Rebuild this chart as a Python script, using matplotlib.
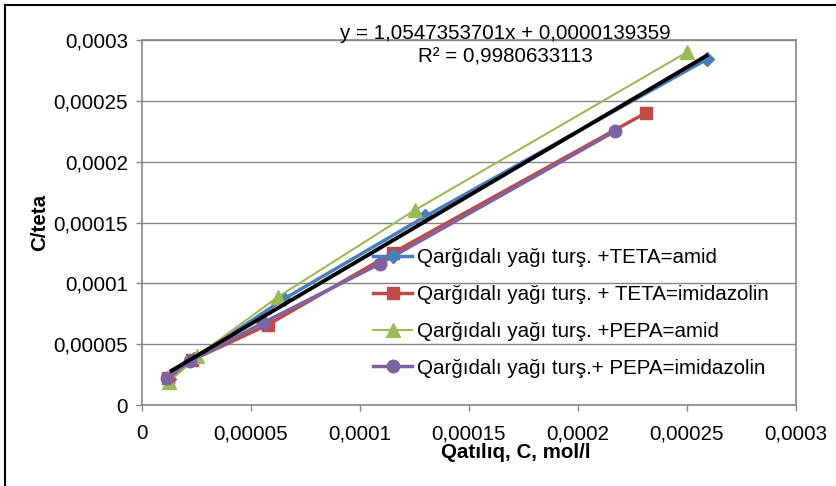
import matplotlib
matplotlib.use("Agg")

import matplotlib.pyplot as plt
from matplotlib.lines import Line2D
import numpy as np

plt.rcParams["font.family"] = ["Liberation Sans", "DejaVu Sans"]

# --- data ---
teta_amid_x = [0.0000125, 0.000024, 0.000065, 0.00013, 0.000259]
teta_amid_y = [0.000021, 0.000038, 0.000087, 0.000155, 0.000284]

teta_imid_x = [0.0000119, 0.000023, 0.0000578, 0.000115, 0.000231]
teta_imid_y = [0.0000222, 0.000037, 0.000066, 0.000125, 0.00024]

pepa_amid_x = [0.0000125, 0.000025, 0.0000625, 0.000125, 0.00025]
pepa_amid_y = [0.000019, 0.00004, 0.000089, 0.00016, 0.00029]

pepa_imid_x = [0.0000115, 0.000022, 0.0000555, 0.000109, 0.000217]
pepa_imid_y = [0.0000225, 0.000036, 0.0000675, 0.000116, 0.000225]

series_labels = [
    "Qarğıdalı yağı turş. +TETA=amid",
    "Qarğıdalı yağı turş. + TETA=imidazolin",
    "Qarğıdalı yağı turş. +PEPA=amid",
    "Qarğıdalı yağı turş.+ PEPA=imidazolin",
]

# trendline as printed on the chart
SLOPE = 1.0547353701
INTERCEPT = 0.0000139359
EQ_TEXT = "y = 1,0547353701x + 0,0000139359"
R2_TEXT = "R² = 0,9980633113"

tick_vals = [0, 0.00005, 0.0001, 0.00015, 0.0002, 0.00025, 0.0003]
tick_labels = ["0", "0,00005", "0,0001", "0,00015", "0,0002", "0,00025", "0,0003"]

GRAY = "#868686"
FS = 14.8

fig = plt.figure(figsize=(8.36, 4.86), dpi=100)
W, H = 836, 486
ax = fig.add_axes([142 / W, 1 - 405 / H, (796 - 142) / W, (405 - 40) / H])

ax.plot(teta_amid_x, teta_amid_y, color="#4A7EBB", lw=2.5, marker="D", ms=7,
        label=series_labels[0], zorder=3)
ax.plot(teta_imid_x, teta_imid_y, color="#BE4B48", lw=2.5, marker="s", ms=8,
        label=series_labels[1], zorder=3)
ax.plot(pepa_amid_x, pepa_amid_y, color="#9BBB59", lw=1.5, marker="^", ms=10,
        label=series_labels[2], zorder=3)
ax.plot(pepa_imid_x, pepa_imid_y, color="#7F63A1", lw=2.5, marker="o", ms=9,
        label=series_labels[3], zorder=3)

all_x = teta_amid_x + teta_imid_x + pepa_amid_x + pepa_imid_x
xs = np.array([min(all_x) + 0.000002, max(all_x)])
ax.plot(xs, SLOPE * xs + INTERCEPT, color="black", lw=2.8, zorder=4)

ax.set_xlim(0, 0.0003)
ax.set_ylim(0, 0.0003)
ax.set_xticks(tick_vals)
ax.set_xticklabels(tick_labels)
ax.set_yticks(tick_vals)
ax.set_yticklabels(tick_labels)
ax.tick_params(axis="both", direction="out", length=4, width=1, color=GRAY,
               labelsize=FS, labelcolor="black")
ax.tick_params(axis="y", pad=6)
ax.tick_params(axis="x", pad=10)
ax.grid(axis="y", color=GRAY, lw=1)
ax.set_axisbelow(True)
for sp in ax.spines.values():
    sp.set_color(GRAY)
    sp.set_linewidth(1.2)

ax.text(0.0003 * (505 - 142) / 654, 0.0003 * (405 - 33) / 365, EQ_TEXT,
        ha="center", va="center", fontsize=FS, zorder=5)
ax.text(0.0003 * (505 - 142) / 654, 0.0003 * (405 - 57) / 365, R2_TEXT,
        ha="center", va="center", fontsize=FS, zorder=5)

fig.text(40 / W, 1 - 222 / H, "C/teta", rotation=90, ha="center", va="center",
         fontsize=FS, fontweight="bold")
fig.text(516 / W, 1 - 452 / H, "Qatılıq, C, mol/l", ha="center", va="center",
         fontsize=FS, fontweight="bold")

ax.legend(loc="upper left", bbox_to_anchor=((373 - 142) / 654, (405 - 248) / 365),
          frameon=False, fontsize=FS, handlelength=1.9, handletextpad=0.25,
          labelspacing=0.87, borderaxespad=0, borderpad=0)

# outer chart border (only left and top visible in the reference)
fig.add_artist(Line2D([5 / W, 5 / W], [0, 1 - 5 / H], transform=fig.transFigure,
                      color="black", lw=1.5))
fig.add_artist(Line2D([5 / W, 1], [1 - 5 / H, 1 - 5 / H], transform=fig.transFigure,
                      color="black", lw=1.5))

fig.savefig("out.png", dpi=100)
